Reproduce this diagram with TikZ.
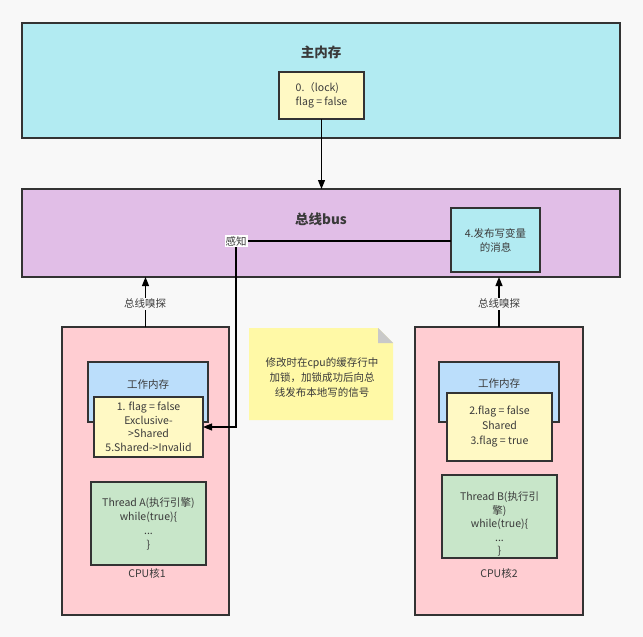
\documentclass[tikz,border=0pt]{standalone}
\usepackage{fontspec}
\setmainfont{Noto Sans CJK SC}
\usetikzlibrary{arrows.meta}
\definecolor{cyanfill}{HTML}{B2EBF2}
\definecolor{busfill}{HTML}{E1BEE7}
\definecolor{cpufill}{HTML}{FFCDD2}
\definecolor{wmfill}{HTML}{BBDEFB}
\definecolor{yelfill}{HTML}{FFF9C4}
\definecolor{grnfill}{HTML}{C8E6C9}
\definecolor{notefill}{HTML}{FFF9A6}
\definecolor{earfill}{HTML}{C9C9C9}
\definecolor{edge}{HTML}{333333}
\definecolor{txt}{HTML}{3A3A3A}
\definecolor{bg}{HTML}{F8F8F8}
\begin{document}
\begin{tikzpicture}[x=1pt,y=-1pt,
  box/.style={draw=edge, line width=1.1pt, inner sep=0pt, outer sep=0pt,
    font=\fontsize{10.5}{14}\selectfont, text=txt, align=center, anchor=north west},
  ttl/.style={font=\fontsize{13.5}{16}\selectfont\bfseries, text=txt, inner sep=1pt},
  lbl/.style={font=\fontsize{10.5}{14}\selectfont, text=txt, inner sep=1pt, align=center},
  conn/.style={draw=black, line width=1.1pt},
  arr/.style={conn, -{Triangle[length=9pt,width=7pt]}}]
\useasboundingbox[fill=bg] (0,0) rectangle (643,637);

% main memory
\node[box, fill=cyanfill, minimum width=598pt, minimum height=115pt] (mainmem) at (22,23) {};
\node[ttl] (maintitle) at (321,52) {主内存};
\node[box, fill=yelfill, minimum width=85pt, minimum height=47pt, align=left] (lockbox) at (279,72) {0.（lock)\\flag = false};

% bus
\node[box, fill=busfill, minimum width=598pt, minimum height=88pt] (bus) at (22,189) {};
\node[ttl] (bustitle) at (321,219) {总线bus};
\node[box, fill=cyanfill, minimum width=89pt, minimum height=64pt] (msg) at (451,208) {4.发布写变量\\的消息};

% CPU 1
\node[box, fill=cpufill, minimum width=167pt, minimum height=288pt] (cpu1) at (62,327) {};
\node[box, fill=wmfill, minimum width=120pt, minimum height=60pt] (wm1) at (88,362) {};
\node[lbl] (wm1title) at (148,385) {工作内存};
\node[box, fill=yelfill, minimum width=109pt, minimum height=60pt, font=\fontsize{10.5}{13.5}\selectfont] (y1) at (94,397)
  {1. flag = false\\Exclusive-\\>Shared\\5.Shared->Invalid};
\node[box, fill=grnfill, minimum width=115pt, minimum height=83pt] (g1) at (91,482)
  {Thread A(执行引擎)\\while(true)\{\\...\\\}};
\node[lbl] (cpu1lbl) at (147,573) {CPU核1};

% CPU 2
\node[box, fill=cpufill, minimum width=168pt, minimum height=288pt] (cpu2) at (415,327) {};
\node[box, fill=wmfill, minimum width=120pt, minimum height=60pt] (wm2) at (439,362) {};
\node[lbl] (wm2title) at (499,384) {工作内存};
\node[box, fill=yelfill, minimum width=105pt, minimum height=68pt, font=\fontsize{10.5}{15}\selectfont] (y2) at (447,393)
  {2.flag = false\\Shared\\3.flag = true};
\node[box, fill=grnfill, minimum width=115pt, minimum height=83pt] (g2) at (442,475) {};
\node[lbl, font=\fontsize{10.5}{13.5}\selectfont] (g2text) at (499.5,524)
  {Thread B(执行引\\擎)\\while(true)\{\\...\\\}};
\node[lbl] (cpu2lbl) at (499,573) {CPU核2};

% note
\fill[notefill] (249,328) -- (378,328) -- (393,343) -- (393,420) -- (249,420) -- cycle;
\fill[earfill] (378,328) -- (393,343) -- (378,343) -- cycle;
\node[lbl, font=\fontsize{10.5}{15}\selectfont] (note) at (322,378)
  {修改时在cpu的缓存行中\\加锁，加锁成功后向总\\线发布本地写的信号};

% connectors
\draw[arr] (lockbox.south) -- (lockbox.south |- bus.north);
\draw[arr] (cpu1.north) -- (cpu1.north |- bus.south);
\draw[arr] (cpu2.north) -- (cpu2.north |- bus.south);
\node[lbl, fill=bg] (snoop1) at (145,304) {总线嗅探};
\node[lbl, fill=bg] (snoop2) at (499,304) {总线嗅探};

\node[lbl, fill=white] (sense) at (236,241) {感知};
\draw[conn] (sense.east) -- (sense.east -| msg.west);
\draw[arr] (sense.south) |- (y1.east);
\end{tikzpicture}
\end{document}
